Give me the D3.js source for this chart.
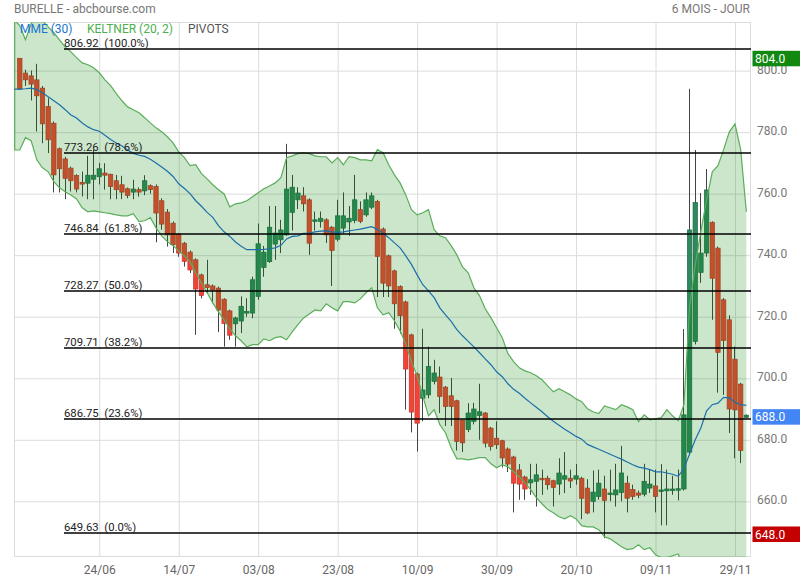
<!DOCTYPE html>
<html><head><meta charset="utf-8">
<script src="https://cdn.jsdelivr.net/npm/d3@7"></script>
<style>body{margin:0;background:#fff}svg{display:block;font-family:Roboto,"Noto Sans",sans-serif}</style>
</head><body><svg id="c" width="800" height="580"></svg>
<script>
// ---- DATA (daily candles, index 0..128) ----
const openV = [804.0,799.2,798.3,797.0,794.3,788.3,782.9,774.6,771.3,768.3,765.9,763.7,763.4,764.7,765.5,766.7,766.3,764.2,762.9,761.6,
760.5,761.3,760.9,762.6,762.3,757.7,754.0,750.4,746.8,743.9,741.0,738.5,733.6,730.4,730.0,729.3,725.7,721.9,717.7,718.6,
721.2,721.2,726.6,736.0,737.9,743.6,745.0,746.6,753.9,758.0,759.3,758.0,751.0,751.0,751.5,749.1,745.2,748.8,750.8,751.3,
754.8,753.1,755.6,757.5,748.5,739.8,734.9,729.8,724.8,714.1,701.4,693.5,694.6,699.0,700.4,697.1,694.3,692.7,686.3,683.3,
686.0,687.9,688.7,683.8,680.5,679.7,677.0,674.4,670.2,667.9,666.0,666.5,667.5,667.5,666.7,665.6,667.2,667.5,667.2,667.5,
664.3,660.0,661.6,664.0,662.2,662.1,662.9,665.9,663.8,662.7,662.3,664.3,665.0,663.2,663.4,663.8,663.9,664.0,676.0,712.0,
734.4,740.7,750.7,742.3,725.5,719.0,706.2,698.1,687.3];
const highV = [804.0,800.3,800.0,802.2,795.0,791.0,783.5,775.0,772.0,768.8,766.3,767.2,772.3,774.3,770.0,769.9,766.5,766.1,765.8,762.0,
764.5,762.0,766.0,763.0,763.0,758.5,755.0,751.0,747.2,744.3,741.5,739.0,734.0,738.5,730.5,729.8,726.0,722.3,720.0,726.6,
726.0,733.0,750.3,743.0,756.0,756.0,751.5,776.2,766.1,762.1,762.1,758.5,754.2,754.2,752.0,749.5,758.0,760.4,756.0,766.1,
757.5,760.4,760.4,758.0,749.0,740.2,735.3,730.2,725.2,714.5,701.8,716.1,710.3,706.0,703.8,697.5,700.1,693.0,686.7,691.9,
692.0,698.2,689.0,684.2,686.0,680.0,677.5,674.8,672.1,668.3,672.2,672.2,670.3,668.3,667.0,674.0,676.0,670.3,672.1,668.0,
667.2,670.0,670.3,668.3,670.3,672.2,678.0,668.3,665.4,663.5,672.2,670.3,670.3,672.1,670.3,668.3,670.3,716.0,794.1,774.2,
760.2,768.0,751.0,742.8,726.1,720.5,710.3,698.5,688.2];
const lowV = [793.7,795.0,790.3,780.2,776.4,773.2,760.4,760.4,758.2,760.7,760.4,759.1,758.2,758.2,763.0,761.3,758.2,758.2,758.2,758.5,
758.2,759.0,759.5,760.0,744.2,748.3,742.8,740.7,739.5,736.3,734.2,714.1,726.0,727.7,724.4,715.0,710.3,712.5,710.3,714.7,
720.0,719.5,725.5,733.0,737.5,738.5,740.7,746.3,748.0,755.0,754.2,740.1,748.0,749.0,744.0,730.0,744.5,747.0,746.3,750.4,
750.4,752.5,755.0,726.4,726.4,726.4,716.1,714.5,689.8,682.4,676.2,686.0,693.5,698.0,688.7,684.5,684.5,676.5,676.0,682.5,
685.0,680.0,677.5,676.5,677.0,671.0,669.5,656.4,660.5,660.5,662.1,658.3,662.1,663.8,658.3,662.1,662.7,664.3,665.4,654.2,
655.8,656.4,660.5,648.0,660.0,658.3,660.0,656.4,660.5,661.0,661.6,662.7,656.4,652.2,652.2,662.1,660.3,663.5,675.0,711.0,
731.0,739.5,719.0,695.3,694.6,682.2,674.0,672.4,687.0];
const closeV = [794.0,797.0,795.6,791.8,782.7,777.5,766.1,768.1,765.0,764.2,761.5,763.1,766.0,766.0,768.1,766.0,762.3,761.3,760.5,759.4,
761.5,760.5,764.2,761.3,753.7,750.1,746.6,743.4,740.7,738.0,735.2,729.0,726.9,729.5,728.7,722.2,717.8,714.0,719.6,723.4,
721.7,732.0,743.7,741.0,749.1,747.2,748.2,761.5,762.1,760.2,756.7,743.9,751.5,752.0,746.6,741.5,752.8,752.8,752.0,758.0,
751.0,758.0,759.3,739.6,730.9,730.0,724.2,720.3,703.0,689.0,685.4,696.2,703.8,701.7,694.1,690.8,690.8,679.4,679.0,688.7,
690.0,689.1,678.9,677.8,678.4,674.1,672.1,665.9,665.6,664.0,667.0,668.6,667.3,665.4,664.5,669.2,668.3,666.6,668.3,661.0,
656.2,663.0,665.9,660.3,662.7,663.7,669.2,661.0,661.6,662.0,666.5,665.6,661.6,663.7,664.0,664.0,664.1,688.1,748.2,757.1,
740.7,761.2,732.5,708.4,712.3,690.0,689.7,676.5,688.0];

// ---- indicators, index -1..128 ----
const mme30 = [794.0,794.0,794.1,794.3,793.8,792.8,791.5,790.2,788.9,787.3,785.6,784.6,783.0,781.7,780.8,780.3,779.0,777.6,776.5,775.5,
774.2,773.1,772.5,772.1,771.2,770.0,768.7,767.3,765.6,763.2,761.7,760.0,757.7,755.9,753.9,752.3,749.6,747.6,746.1,744.3,
742.9,741.8,741.8,741.8,741.9,742.1,742.4,743.2,745.3,746.1,746.3,747.1,747.2,747.6,747.8,747.9,747.6,747.4,747.6,747.9,
748.2,748.5,748.9,749.3,748.4,747.1,745.7,744.0,742.4,739.8,737.0,733.6,730.4,728.4,726.2,722.9,720.6,718.5,715.8,713.8,
712.0,710.2,708.3,706.3,704.4,702.1,700.5,698.2,696.4,695.1,693.5,692.0,690.6,689.1,687.5,686.0,684.7,683.4,682.3,681.1,
680.2,678.5,677.7,676.9,676.1,675.3,674.5,673.7,672.8,671.9,671.1,670.8,670.3,669.6,669.6,669.2,668.8,668.1,670.6,675.4,
680.0,683.9,689.4,691.4,691.9,693.8,693.6,692.2,691.4,691.2];
const keltUp = [816.5,814.6,810.0,815.2,818.5,816.2,814.2,812.3,810.0,807.7,806.1,804.2,802.5,801.9,800.9,799.3,797.0,795.1,792.5,790.2,
788.2,787.3,786.3,784.7,783.0,781.4,780.1,778.5,776.5,773.6,771.7,769.1,769.4,766.5,764.8,762.9,761.3,759.9,755.7,756.7,
757.0,757.7,759.0,760.3,761.6,762.5,763.5,765.2,771.7,772.3,773.0,773.3,773.0,772.3,772.0,772.0,770.0,771.7,769.4,772.0,
771.7,771.0,771.0,770.7,774.3,773.3,769.4,766.1,763.5,759.6,754.8,753.1,753.8,754.8,748.3,746.3,745.7,743.1,740.1,736.2,
734.3,729.4,726.8,722.6,719.7,716.4,713.2,708.0,705.4,703.4,702.4,701.8,700.8,699.5,697.5,695.6,696.6,695.6,694.6,693.3,
692.4,690.1,689.1,688.5,691.0,690.4,689.8,691.4,690.7,689.8,685.9,688.1,686.5,686.8,687.2,689.8,687.8,686.2,691.4,722.9,
736.9,747.9,758.0,767.1,769.1,774.3,780.1,782.7,774.3,754.1];
const keltLow = [774.2,774.2,778.2,777.2,771.0,768.4,767.1,763.9,761.9,760.6,759.6,758.3,755.4,754.1,754.4,754.1,753.8,753.5,753.1,752.8,
752.8,753.5,750.9,751.2,752.2,748.9,746.3,744.4,743.1,741.4,739.8,737.9,734.3,731.0,727.8,724.5,721.6,719.0,716.1,713.8,
712.2,710.2,710.9,710.9,712.8,712.2,713.2,713.5,712.5,715.1,717.4,719.6,720.9,722.2,721.9,724.2,722.9,721.9,724.9,724.9,
724.5,725.8,727.8,729.4,722.9,720.6,721.3,718.7,715.4,711.2,705.4,700.8,694.3,687.8,689.8,684.9,682.3,677.4,673.8,673.8,
673.5,673.8,674.2,674.2,672.2,670.9,671.9,671.2,669.6,668.0,666.0,663.8,661.2,659.2,657.3,656.3,655.0,654.3,655.3,654.3,
652.1,651.7,651.7,650.8,648.5,647.8,646.5,645.2,644.3,644.6,645.9,644.3,644.9,642.6,641.7,641.7,642.3,642.9,637.8,625.0,
615.0,608.0,602.0,598.0,596.0,594.0,590.0,590.0,592.0,598.0];

const tickIdx = [14,28,42,56,70,84,98,112,126];
const tickLabels = ["24/06","14/07","03/08","23/08","10/09","30/09","20/10","09/11","29/11"];
const yTicks = [660,680,700,720,740,760,780,800];
const pivotLevels = [806.92,773.26,746.84,728.27,709.71,686.75,649.63];
const pivotPct = ["100.0%","78.6%","61.8%","50.0%","38.2%","23.6%","0.0%"];

// ---- DRAW ----
const svg = d3.select('#c');
const X0 = 14, X1 = 751, Y0 = 22, Y1 = 557;
const x = d3.scaleLinear().domain([-1.02, 128.82]).range([X0, X1]);
const y = d3.scaleLinear().domain([641.9, 815.8]).range([Y1, Y0]);
const cr = v => Math.round(v) + 0.5;

svg.append('defs').append('clipPath').attr('id', 'clip')
  .append('rect').attr('x', X0).attr('y', Y0).attr('width', X1 - X0).attr('height', Y1 - Y0);

// grid
svg.append('g').attr('transform', `translate(${X0},0)`)
  .call(d3.axisLeft(y).tickValues(yTicks).tickSize(-(X1 - X0)).tickFormat(''))
  .call(g => g.select('.domain').remove())
  .call(g => g.selectAll('line').attr('stroke', '#dcdcdc'));
svg.append('g').attr('transform', `translate(0,${Y1})`)
  .call(d3.axisBottom(x).tickValues(tickIdx).tickSize(-(Y1 - Y0)).tickFormat(''))
  .call(g => g.select('.domain').remove())
  .call(g => g.selectAll('line').attr('stroke', '#dcdcdc'));
svg.append('rect').attr('x', X0 + 0.5).attr('y', Y0 + 0.5).attr('width', X1 - X0 - 1).attr('height', Y1 - Y0 - 1)
  .attr('fill', 'none').attr('stroke', '#dcdcdc');

// candles
const candles = openV.map((o, i) => ({ i, o, h: highV[i], l: lowV[i], c: closeV[i] }));
const cg = svg.append('g').attr('clip-path', 'url(#clip)');
cg.selectAll('line.w').data(candles).join('line').attr('class', 'w')
  .attr('x1', d => cr(x(d.i) - 0.5)).attr('x2', d => cr(x(d.i) - 0.5))
  .attr('y1', d => y(d.h)).attr('y2', d => y(d.l))
  .attr('stroke', '#444').attr('stroke-width', 1);
cg.selectAll('rect.b').data(candles).join('rect').attr('class', 'b')
  .attr('x', d => x(d.i) - 2.2).attr('width', 4.4)
  .attr('y', d => y(Math.max(d.o, d.c)))
  .attr('height', d => Math.max(1.6, Math.abs(y(d.o) - y(d.c))))
  .attr('fill', d => d.c >= d.o ? '#2f895e' : '#f44336')
  .attr('stroke', d => d.c >= d.o ? '#1f6a45' : '#c0352b').attr('stroke-width', 0.7);

// Keltner band (drawn over candles, translucent)
const bg = svg.append('g').attr('clip-path', 'url(#clip)');
const idx = d3.range(keltUp.length);
bg.append('path').datum(idx)
  .attr('d', d3.area().x(i => x(i - 1)).y0(i => y(keltLow[i])).y1(i => y(keltUp[i])))
  .attr('fill', 'rgba(0,128,0,0.2)');
const ln = arr => d3.line().x(i => x(i - 1)).y(i => y(arr[i]));
bg.append('path').datum(idx).attr('d', ln(keltUp)).attr('fill', 'none').attr('stroke', '#5aad5a').attr('stroke-width', 1.2);
bg.append('path').datum(idx).attr('d', ln(keltLow)).attr('fill', 'none').attr('stroke', '#5aad5a').attr('stroke-width', 1.2);
bg.append('line').attr('x1', x(-1) + 0.6).attr('x2', x(-1) + 0.6).attr('y1', y(keltUp[0])).attr('y2', y(keltLow[0]))
  .attr('stroke', '#5aad5a').attr('stroke-width', 1.2);
// MME
bg.append('path').datum(idx).attr('d', ln(mme30)).attr('fill', 'none').attr('stroke', '#1c6fa9').attr('stroke-width', 1.2);

// pivots
const pg = svg.append('g');
pivotLevels.forEach((v, k) => {
  const yy = Math.round(y(v));
  pg.append('line').attr('x1', 64).attr('x2', X1).attr('y1', yy).attr('y2', yy).attr('stroke', '#000').attr('stroke-width', 1.4);
  pg.append('text').attr('x', 64).attr('y', yy - 2.5).attr('font-size', 11.3).attr('fill', '#222')
    .text(v.toFixed(2) + '\u00a0\u00a0(' + pivotPct[k] + ')');
});

// y axis labels
svg.append('g').attr('transform', `translate(${X1},0)`)
  .call(d3.axisRight(y).tickValues(yTicks).tickSize(0).tickPadding(6).tickFormat(d3.format('.1f')))
  .call(g => g.select('.domain').remove())
  .call(g => g.selectAll('text').attr('font-size', 12).attr('fill', '#777').attr('font-family', 'Roboto').attr('dy', '0.22em'));

// x axis labels
svg.append('g').attr('transform', `translate(0,${Y1})`)
  .call(d3.axisBottom(x).tickValues(tickIdx).tickSize(0).tickPadding(8).tickFormat((d, i) => tickLabels[i]))
  .call(g => g.select('.domain').remove())
  .call(g => g.selectAll('text').attr('font-size', 12).attr('fill', '#666').attr('font-family', 'Roboto'));

// price tags
const tags = [
  { v: d3.max(highV), bg: '#11880f' },
  { v: closeV[closeV.length - 1], bg: '#4285f4' },
  { v: d3.min(lowV), bg: '#c40000' }
];
tags.forEach(t => {
  const cy = Math.min(y(t.v) + (t.v === closeV[closeV.length - 1] ? 1.5 : 0), Y1 - 23);
  svg.append('rect').attr('x', 752.5).attr('y', cy - 7.5).attr('width', 48).attr('height', 15.5).attr('fill', t.bg);
  svg.append('text').attr('x', 755).attr('y', cy + 4.5).attr('font-size', 12).attr('fill', '#fff').text(t.v.toFixed(1));
});

// title & legend
svg.append('text').attr('x', 14).attr('y', 13).attr('font-size', 12).attr('fill', '#777').text('BURELLE - abcbourse.com');
svg.append('text').attr('x', 750).attr('y', 13).attr('font-size', 12).attr('fill', '#777').attr('text-anchor', 'end').text('6 MOIS - JOUR');
svg.append('text').attr('x', 20).attr('y', 33).attr('font-size', 12).attr('fill', '#1976d2').text('MME (30)');
svg.append('text').attr('x', 87).attr('y', 33).attr('font-size', 12).attr('fill', '#4caf50').text('KELTNER (20, 2)');
svg.append('text').attr('x', 188).attr('y', 33).attr('font-size', 12).attr('fill', '#555').text('PIVOTS');
</script></body></html>
